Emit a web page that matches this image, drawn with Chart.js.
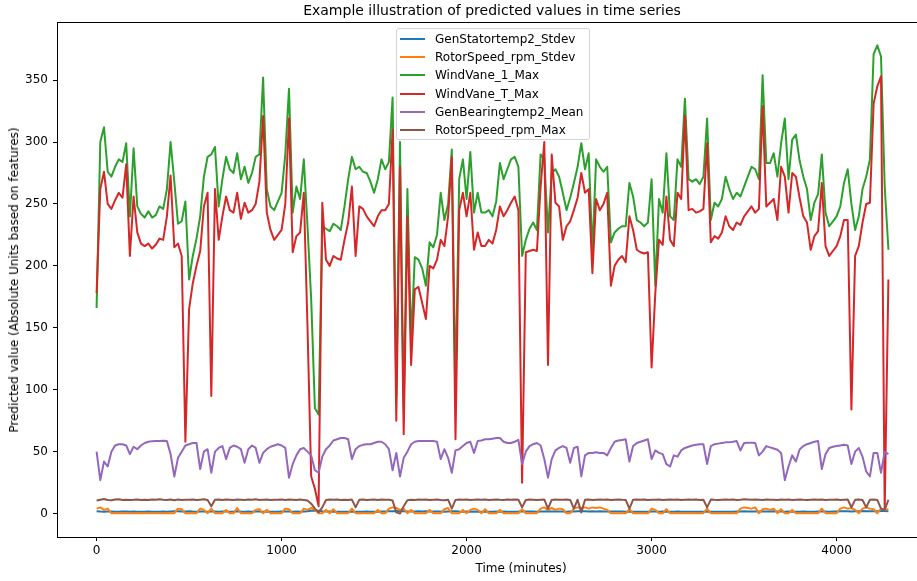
<!DOCTYPE html>
<html>
<head>
<meta charset="utf-8">
<script src="https://cdn.jsdelivr.net/npm/chart.js@4.4.1/dist/chart.umd.min.js"></script>
<style>
  body { margin: 0; background: #fff; overflow: hidden; }
  #wrap { position: relative; width: 917px; height: 581px; overflow: hidden; font-family: "DejaVu Sans", sans-serif; color: #000; }
  #chart { position: absolute; left: 0; top: 0; }
  .title { position: absolute; top: 2px; left: 492px; transform: translateX(-50%); font-size: 14px; white-space: nowrap; }
  .xlabel { position: absolute; top: 561px; left: 521px; transform: translateX(-50%); font-size: 12px; white-space: nowrap; }
  .ylabel { position: absolute; left: 14px; top: 280px; transform: translate(-50%, -50%) rotate(-90deg); font-size: 12px; white-space: nowrap; }
  #legend { position: absolute; left: 396px; top: 28px; width: 192px; height: 110px; border: 1px solid #d4d4d4; border-radius: 3px; background: rgba(255,255,255,0.8); font-size: 12px; }
  .item { position: absolute; left: 0; height: 18px; line-height: 18px; white-space: nowrap; }
  .swatch { position: absolute; left: 3px; top: 8px; width: 25px; height: 2px; }
  .name { position: absolute; left: 38px; top: 0; }
</style>
</head>
<body>
<div id="wrap">
  <canvas id="chart" width="940" height="581"></canvas>
  <div class="title">Example illustration of predicted values in time series</div>
  <div class="xlabel">Time (minutes)</div>
  <div class="ylabel">Predicted value (Absolute Units based on features)</div>
  <div id="legend"></div>
</div>
<script>
// Waktu sampel (menit), satu titik tiap 20 menit
const minutes = [
  0,20,40,60,80,100,120,140,160,180,200,220,240,260,280,300,320,340,360,380,
  400,420,440,460,480,500,520,540,560,580,600,620,640,660,680,700,720,740,760,780,
  800,820,840,860,880,900,920,940,960,980,1000,1020,1040,1060,1080,1100,1120,1140,1160,1180,
  1200,1220,1240,1260,1280,1300,1320,1340,1360,1380,1400,1420,1440,1460,1480,1500,1520,1540,1560,1580,
  1600,1620,1640,1660,1680,1700,1720,1740,1760,1780,1800,1820,1840,1860,1880,1900,1920,1940,1960,1980,
  2000,2020,2040,2060,2080,2100,2120,2140,2160,2180,2200,2220,2240,2260,2280,2300,2320,2340,2360,2380,
  2400,2420,2440,2460,2480,2500,2520,2540,2560,2580,2600,2620,2640,2660,2680,2700,2720,2740,2760,2780,
  2800,2820,2840,2860,2880,2900,2920,2940,2960,2980,3000,3020,3040,3060,3080,3100,3120,3140,3160,3180,
  3200,3220,3240,3260,3280,3300,3320,3340,3360,3380,3400,3420,3440,3460,3480,3500,3520,3540,3560,3580,
  3600,3620,3640,3660,3680,3700,3720,3740,3760,3780,3800,3820,3840,3860,3880,3900,3920,3940,3960,3980,
  4000,4020,4040,4060,4080,4100,4120,4140,4160,4180,4200,4220,4240,4260,4280
];

const genStatorStdev = [
  1.8,1.6,1.5,1.7,1.6,1.4,1.5,1.6,1.7,1.5,
  1.6,1.5,1.4,1.5,1.6,1.5,1.4,1.5,1.6,1.5,
  1.7,1.8,1.9,1.6,1.7,1.8,1.6,1.5,1.7,1.6,
  1.5,1.7,1.6,1.5,1.6,1.7,1.5,1.6,1.8,1.6,
  1.5,1.6,1.5,1.7,1.6,1.5,1.6,1.5,1.4,1.5,
  1.6,1.7,1.6,1.5,1.6,1.5,1.7,1.8,2.2,2.4,
  2.3,1.9,1.7,1.6,1.5,1.4,1.5,1.4,1.5,1.6,
  1.5,1.4,1.5,1.6,1.5,1.4,1.5,1.6,1.7,1.8,
  1.9,2.0,1.8,1.9,1.7,1.6,1.7,1.8,1.7,1.8,
  1.7,1.6,1.7,1.6,1.5,1.7,1.8,1.9,1.6,1.5,
  1.6,1.5,1.6,1.5,1.4,1.5,1.4,1.5,1.6,1.5,
  1.6,1.5,1.4,1.5,1.6,1.8,1.6,1.7,1.6,1.5,
  1.6,1.7,1.8,1.7,1.6,1.7,1.6,1.5,1.6,1.7,
  1.8,1.9,1.8,1.7,1.8,1.7,1.8,1.7,1.6,1.7,
  1.6,1.7,1.6,1.5,1.6,1.5,1.4,1.5,1.4,1.5,
  1.6,1.7,1.5,1.6,1.5,1.4,1.5,1.6,1.5,1.4,
  1.5,1.4,1.5,1.4,1.5,1.6,1.5,1.4,1.5,1.4,
  1.5,1.4,1.5,1.6,1.7,1.8,1.7,1.6,1.7,1.6,
  1.7,1.6,1.7,1.8,1.7,1.6,1.5,1.6,1.5,1.4,
  1.5,1.6,1.5,1.4,1.5,1.6,1.7,1.6,1.5,1.6,
  1.7,1.8,1.9,1.8,1.7,1.8,1.9,2.0,1.9,1.8,
  1.9,1.8,2.0,2.1,1.9
];

const rotorSpeedStdev = [
  4,5,3,4,0.3,0.2,0.3,0.4,0.2,0.3,
  0.3,0.2,0.4,0.3,0.2,0.3,0.3,0.2,0.3,0.4,
  0.3,0.3,4,3.5,0.3,0.2,0.3,0.3,4,3,
  0.3,4,0.3,0.2,0.3,3,0.3,0.2,4.5,0.3,
  0.3,0.2,0.3,3,3.5,0.3,3,0.3,0.2,0.3,
  0.3,4,3.5,0.3,0.2,0.3,4,3,4.5,3,
  0.3,0.3,3,0.3,3.5,0.3,0.2,0.3,0.3,4,
  0.3,0.2,0.3,0.3,0.2,0.3,3,0.3,0.2,4,
  5,4.5,3,4,0.3,3,0.3,0.2,0.3,0.3,
  3,0.3,0.2,0.3,3.5,4.5,0.3,0.3,0.2,3,
  0.3,3,4,3,0.3,3.5,0.3,0.2,0.3,3,
  0.3,0.2,0.3,0.3,0.2,3.5,0.3,0.2,0.3,0.3,
  4,5,3,4.5,3,4,3.5,0.3,0.3,4,
  5,4.5,5,4,5,4.5,5,4,3,0.3,
  0.2,0.3,0.3,0.2,3.5,0.3,0.2,0.3,0.3,0.2,
  4,3,0.3,0.2,3.5,0.3,0.3,0.2,0.3,0.3,
  0.2,0.3,0.3,0.2,0.3,4,0.3,0.2,0.3,0.3,
  0.2,0.3,0.3,0.2,4,5,4.5,4,5,0.3,
  3.5,4,3,4,0.3,3.5,0.3,0.2,3,0.3,
  0.3,0.2,0.3,0.3,0.2,0.3,4,0.3,0.2,0.3,
  0.3,4,5,4,4.5,3,0.3,4,5,4,
  3.5,0.3,4,3,3.5
];

const windVane1Max = [
  166,300,312,276,272,280,286,284,299,240,
  295,248,242,239,244,239,241,248,246,262,
  300,268,234,236,252,189,208,222,240,272,
  288,290,296,248,270,288,278,275,291,270,
  280,267,275,288,290,352,262,248,245,252,
  259,290,343,243,264,254,286,232,173,85,
  80,232,230,228,234,232,229,248,270,288,
  278,280,276,275,268,259,270,286,278,284,
  336,95,300,85,262,140,207,205,198,184,
  219,215,225,259,237,250,294,100,270,286,
  254,292,243,259,243,243,245,240,252,283,
  270,278,286,288,280,208,221,230,235,229,
  290,286,227,275,278,272,259,245,255,267,
  280,299,278,291,211,286,280,276,280,219,
  227,230,232,232,267,256,237,235,232,235,
  270,184,254,243,291,240,237,286,280,335,
  270,268,270,266,272,319,237,251,248,254,
  272,262,254,259,256,264,272,280,278,270,
  354,283,283,291,272,299,319,270,302,306,
  285,272,262,237,251,258,290,243,232,236,
  240,248,267,278,250,229,240,262,272,286,
  371,378,369,264,213
];

const windVaneTMax = [
  178,262,276,250,246,253,259,255,282,208,
  256,227,218,216,218,214,217,222,221,240,
  273,215,218,208,58,165,186,200,212,248,
  259,95,262,221,240,256,245,243,259,238,
  251,243,245,250,268,321,243,229,221,225,
  229,250,319,211,224,227,259,151,30,20,
  6,251,205,200,208,206,205,221,235,264,
  208,248,246,240,236,232,240,245,245,250,
  310,75,280,64,240,120,181,183,170,157,
  200,198,205,221,216,240,288,60,245,259,
  240,259,213,227,216,216,221,218,229,248,
  240,245,251,256,245,25,211,212,213,212,
  264,300,120,290,251,248,221,232,236,245,
  255,275,259,262,194,254,245,250,259,184,
  200,205,208,203,240,229,213,211,210,211,
  118,178,221,217,256,221,216,259,254,321,
  245,246,243,244,246,299,219,224,222,227,
  240,232,229,235,233,240,244,248,243,246,
  329,248,251,254,237,280,272,243,275,272,
  255,240,235,213,224,228,267,216,208,212,
  216,224,237,237,84,208,216,235,250,251,
  331,345,353,4,189
];

const genBearingMean = [
  50,27,42,38,50,55,56,56,55,48,
  54,52,55,57,58,58.5,58.6,58.6,58.8,58.6,
  48,30,45,50,55,56,57,57,36,50,
  52,33,50,53,54.5,44,53,55,54,52,
  41,52,55,53,41,49,52,54,55,56,
  55,53,29,40,47,52,53,50,47,35,
  33,46,52,55,59,60,61,61,60,44,
  52,54.5,55.5,56,56,57,58,58,56,52,
  35,49,30,45,50,56,58,58.6,58.6,58.6,
  58.6,58.6,58,44,52,45,33,51,52,54.5,
  57,58,49,58.6,59,60,60,60.5,61,61,
  58,57,57,58,59.5,40,50,54.5,56,57,
  55,44,29,44,51,53,54.5,53,41,53,
  54,30,47,49,49,49.5,49,49,47,53,
  58,59,59.5,60,42,54.5,57,58,59,60,
  44,51,49,48,40,38,47,46,51,53,
  54,55,55.5,56,56,40,54.5,56,56.5,57,
  57.5,57.5,58,58.6,51,57,57.2,57.2,57,47,
  50,54.5,53.5,52.5,51.5,49,27,38,47,42,
  51.8,54.5,56,57,58,58.6,36,48,53,54,
  54.5,55,55.5,55,40,50,53,46,34,30,
  49,49,33,50,48
];

const rotorSpeedMax = [
  10.5,11.2,11.8,11.0,10.8,11.3,11.5,11.0,11.2,10.9,
  11.1,11.4,11.0,11.2,10.9,11.3,11.1,11.5,11.2,11.0,
  11.3,10.8,11.4,11.0,11.2,11.1,11.3,10.9,11.2,11.5,
  11.0,6.0,11.2,11.4,11.0,11.3,11.1,10.9,11.4,11.2,
  11.0,11.3,11.1,11.5,11.0,11.2,11.4,10.9,11.2,11.1,
  11.3,11.0,11.4,11.2,10.9,11.3,11.0,10.5,8.0,4.0,
  1.0,5.0,11.0,11.3,11.1,11.4,11.0,11.2,10.9,11.3,
  5.0,11.1,11.4,11.0,11.2,11.3,11.0,11.4,11.1,11.2,
  10.5,1.0,0.0,6.0,10.8,11.2,11.0,11.3,11.1,11.4,
  11.0,11.2,11.3,11.0,10.8,11.2,4.0,11.0,11.3,11.1,
  11.4,11.0,11.2,11.3,11.1,11.4,11.0,11.2,11.3,11.1,
  11.0,11.3,11.1,11.4,11.2,5.0,11.0,11.3,11.2,11.0,
  11.2,11.4,4.0,11.0,11.3,11.1,11.2,11.4,11.0,4.0,
  11.2,1.0,11.1,11.3,11.0,11.2,11.4,11.1,11.3,11.0,
  11.2,11.3,11.1,11.0,4.0,11.2,11.3,11.1,11.4,11.0,
  11.2,11.1,11.3,11.0,11.2,11.4,11.1,11.3,11.0,11.2,
  11.3,11.1,11.4,11.0,11.2,5.0,11.3,11.1,11.0,11.2,
  11.4,11.1,11.3,11.0,11.2,11.5,11.3,11.1,11.4,11.2,
  11.0,11.3,11.1,11.2,11.0,11.3,11.1,11.4,11.0,11.2,
  11.3,11.1,11.0,11.2,11.4,11.1,11.3,11.0,11.2,11.1,
  11.3,11.0,11.2,11.4,5.0,11.1,11.3,11.0,5.0,11.2,
  11.3,11.0,4.0,3.0,11.2
];

const seriesNames = ['GenStatortemp2_Stdev', 'RotorSpeed_rpm_Stdev', 'WindVane_1_Max',
                     'WindVane_T_Max', 'GenBearingtemp2_Mean', 'RotorSpeed_rpm_Max'];
const seriesValues = [genStatorStdev, rotorSpeedStdev, windVane1Max,
                      windVaneTMax, genBearingMean, rotorSpeedMax];
const seriesColors = ['#1f77b4', '#ff7f0e', '#2ca02c', '#d62728', '#9467bd', '#8c564b'];

const xTicks = [0, 1000, 2000, 3000, 4000];
const yTicks = [0, 50, 100, 150, 200, 250, 300, 350];

const fontFamily = '"DejaVu Sans", sans-serif';

// Legenda di dalam area plot (seperti matplotlib)
const legend = document.getElementById('legend');
seriesNames.forEach((name, i) => {
    const row = document.createElement('div');
    row.className = 'item';
    row.style.top = (1 + i * 18.2) + 'px';
    row.innerHTML = '<span class="swatch" style="background:' + seriesColors[i] + '"></span>' +
                    '<span class="name">' + name + '</span>';
    legend.appendChild(row);
});

// Bingkai hitam di sekeliling area plot
const framePlugin = {
    id: 'frame',
    afterDraw(chart) {
        const { ctx, chartArea: a } = chart;
        ctx.save();
        ctx.strokeStyle = '#000';
        ctx.lineWidth = 1;
        ctx.strokeRect(a.left + 0.5, a.top + 0.5, a.right - a.left, a.bottom - a.top);
        ctx.restore();
    }
};

const datasets = seriesNames.map((name, i) => ({
    label: name,
    data: minutes.map((m, k) => ({ x: m, y: seriesValues[i][k] })),
    borderColor: seriesColors[i],
    backgroundColor: seriesColors[i],
    borderWidth: 2,
    borderJoinStyle: 'round',
    pointRadius: 0,
    tension: 0,
    order: seriesNames.length - i   // the last series is drawn on top
}));

const ctx = document.getElementById('chart').getContext('2d');
new Chart(ctx, {
    type: 'line',
    data: { datasets },
    options: {
        responsive: false,
        animation: false,
        devicePixelRatio: 1,
        layout: { padding: { top: 22, right: 12, left: 0, bottom: 0 } },
        plugins: {
            legend: { display: false },
            tooltip: { enabled: false }
        },
        scales: {
            x: {
                type: 'linear',
                min: -214,
                max: 4494,
                afterBuildTicks: s => { s.ticks = xTicks.map(v => ({ value: v })); },
                afterFit: s => { s.height = 44; },
                ticks: {
                    color: '#000',
                    padding: 3,
                    maxRotation: 0,
                    font: { family: fontFamily, size: 12 },
                    callback: v => String(v)
                },
                grid: { drawOnChartArea: false, drawTicks: true, tickLength: 4, tickColor: '#000' },
                border: { display: true, color: '#000', width: 1 }
            },
            y: {
                min: -18.9,
                max: 396.9,
                afterBuildTicks: s => { s.ticks = yTicks.map(v => ({ value: v })); },
                afterFit: s => { s.width = 57; },
                ticks: {
                    color: '#000',
                    padding: 5,
                    font: { family: fontFamily, size: 12 },
                    callback: v => String(v)
                },
                grid: { drawOnChartArea: false, drawTicks: true, tickLength: 4, tickColor: '#000' },
                border: { display: true, color: '#000', width: 1 }
            }
        }
    },
    plugins: [framePlugin]
});
</script>
</body>
</html>
